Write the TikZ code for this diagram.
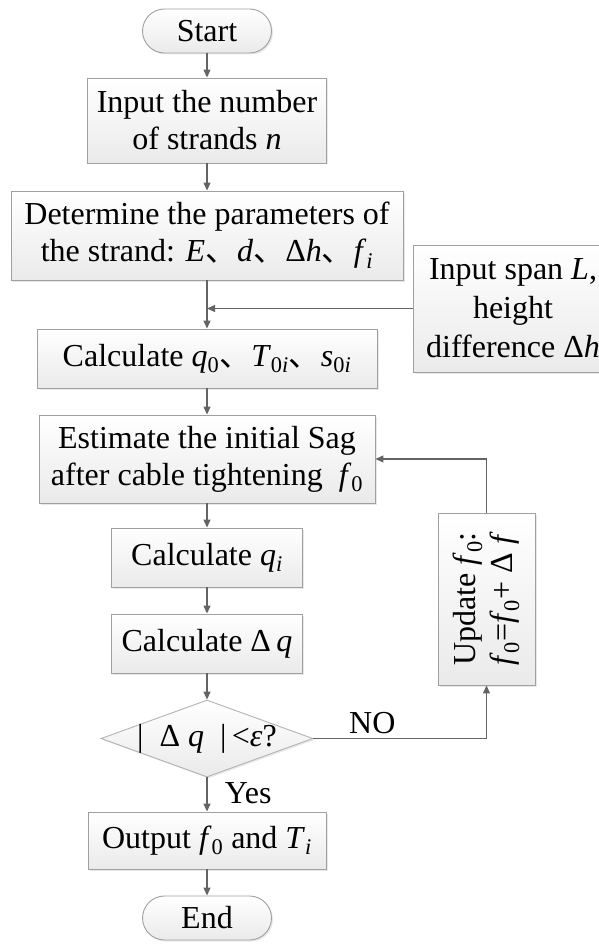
\documentclass[tikz,border=0pt]{standalone}
\usepackage{fontspec}
\setmainfont{Liberation Serif}
\newfontfamily\cjk{Noto Sans CJK SC}
\usepackage{tikz}
\usetikzlibrary{arrows.meta, shapes.geometric, positioning, calc, shadows}
\definecolor{Borde} {RGB}{160,160,160}
\definecolor{Linea} {RGB}{100,100,100}
\definecolor{Fondo} {RGB}{234,234,234}
\newcommand{\dun}{{\cjk 、}}
\newcommand{\vsub}[2]{\textit{#1}\textsubscript{#2}}
\tikzset{
  caja/.style={draw=Borde,line width=0.9pt,top color=white,bottom color=Fondo,
    drop shadow={opacity=0.18,shadow xshift=1.5pt,shadow yshift=-1.5pt},
    inner sep=0pt,align=center},
  proc/.style={caja,rectangle},
  term/.style={caja,rounded corners=22pt,minimum width=129pt,minimum height=44pt},
  dec/.style={caja,diamond,draw=Borde!80},
  flecha/.style={-{Triangle[length=8pt,width=7pt]},draw=Linea,line width=1.3pt}
}

\begin{document}
\begin{tikzpicture}[x=1pt,y=-1pt,font=\fontsize{32}{37}\selectfont]
  \useasboundingbox (0,0) rectangle (598,944);
  \node[term] (start) at (207,31) {Start};
  \node[proc,minimum width=239pt,minimum height=85pt] (input) at (207,120.5) {Input the number\\of strands \textit{n}};
  \node[proc,minimum width=392pt,minimum height=89pt] (det) at (207,235.5) {Determine the parameters of\\the strand: \textit{E}\dun\textit{d}\dun Δ\textit{h}\dun\vsub{f}{\textit{i}}};
  \node[proc,minimum width=200pt,minimum height=127pt,font=\fontsize{32}{39}\selectfont] (span) at (513,308.5) {Input span \textit{L},\\height\\difference Δ\textit{h}};
  \node[proc,minimum width=340pt,minimum height=59pt] (calc0) at (207,358.5) {Calculate \vsub{q}{0}\dun\vsub{T}{0\textit{i}}\dun\vsub{s}{0\textit{i}}};
  \node[proc,minimum width=336pt,minimum height=88pt] (est) at (207,459) {Estimate the initial Sag\\after cable tightening\enspace\vsub{f}{0}};
  \node[proc,minimum width=191pt,minimum height=59pt] (calcq) at (207,557.5) {Calculate \vsub{q}{\textit{i}}};
  \node[proc,minimum width=191pt,minimum height=59pt] (dq) at (207,643.5) {Calculate Δ\,\textit{q}};
  \node[dec,minimum width=212pt,minimum height=77pt] (chk) at (207,738.5) {\makebox[0pt]{|\enspace Δ \textit{q}\enspace|\,<\textit{ε}?}};
  \node[proc,minimum width=238pt,minimum height=57pt] (out) at (207,840.5) {Output \vsub{f}{0} and \vsub{T}{\textit{i}}};
  \node[term] (end) at (207,918) {End};
  \node[proc,rotate=90,minimum width=172pt,minimum height=97pt] (upd) at (486.5,599) {Update \vsub{f}{0}:\\\vsub{f}{0}=\vsub{f}{0}+ Δ \textit{f}};
  \coordinate (join) at (det.south |- span.west);

  \draw[flecha] (start) -- (input);
  \draw[flecha] (input) -- (det);
  \draw[flecha] (det) -- (calc0);
  \draw[flecha] (span) -- (join);
  \draw[flecha] (calc0) -- (est);
  \draw[flecha] (est) -- (calcq);
  \draw[flecha] (calcq) -- (dq);
  \draw[flecha] (dq) -- (chk);
  \draw[flecha] (chk) -- node[right,pos=0.45,xshift=14pt]{Yes} (out);
  \draw[flecha] (chk) -| node[above,pos=0.17,inner sep=4pt]{NO} (upd);
  \draw[flecha] (upd) |- (est);
  \draw[flecha] (out) -- (end);
\end{tikzpicture}
\end{document}
